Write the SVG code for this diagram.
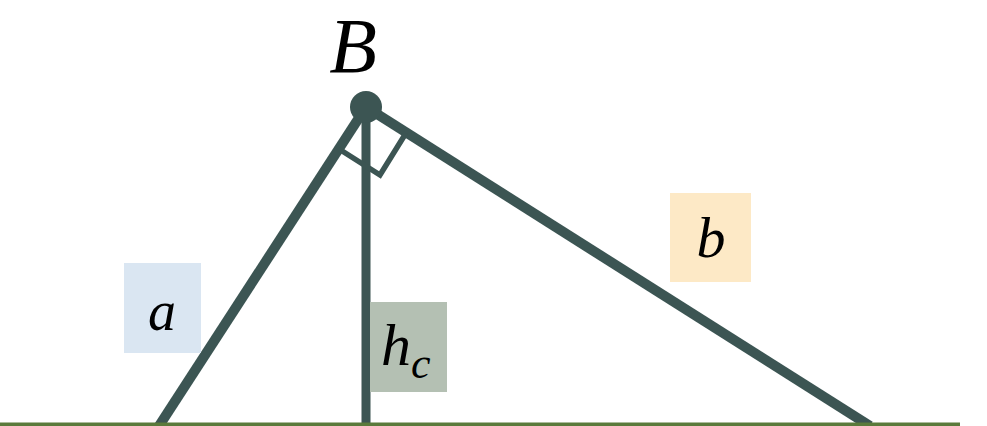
<svg xmlns="http://www.w3.org/2000/svg" width="987" height="426" viewBox="0 0 987 426">
<style>
.edge{stroke:#3c5553;stroke-width:10;fill:none;stroke-linecap:butt}
.mark{stroke:#3c5553;stroke-width:5.5;fill:none}
.lbl{font-family:"Liberation Serif","DejaVu Serif",serif;font-style:italic;fill:#000}
</style>
<rect width="987" height="426" fill="#ffffff"/>
<g id="connectors">
<line class="edge" x1="366" y1="107" x2="159" y2="426"/>
<line class="edge" x1="366" y1="107" x2="870" y2="426"/>
<line class="edge" x1="366" y1="107" x2="366" y2="426" style="stroke-width:9"/>
<polyline class="mark" points="339,149 380,175 406,133"/>
<line x1="0" y1="424.5" x2="960" y2="424.5" stroke="#5a7a3b" stroke-width="4"/>
</g>
<g id="B">
<circle cx="366" cy="107" r="16" fill="#3c5553"/>
<text class="lbl" x="353" y="72" font-size="78" text-anchor="middle">B</text>
</g>
<g id="label-a">
<rect x="124" y="263" width="77" height="90" fill="#dae6f2"/>
<text class="lbl" x="162" y="330" font-size="56" text-anchor="middle">a</text>
</g>
<g id="label-hc">
<rect x="370" y="302" width="77" height="90" fill="#b4c0b3"/>
<text class="lbl" x="381" y="365" font-size="60">h<tspan font-size="44" dy="13">c</tspan></text>
</g>
<g id="label-b">
<rect x="670" y="193" width="81" height="89" fill="#fde9c6"/>
<text class="lbl" x="711" y="257" font-size="58" text-anchor="middle">b</text>
</g>
</svg>
